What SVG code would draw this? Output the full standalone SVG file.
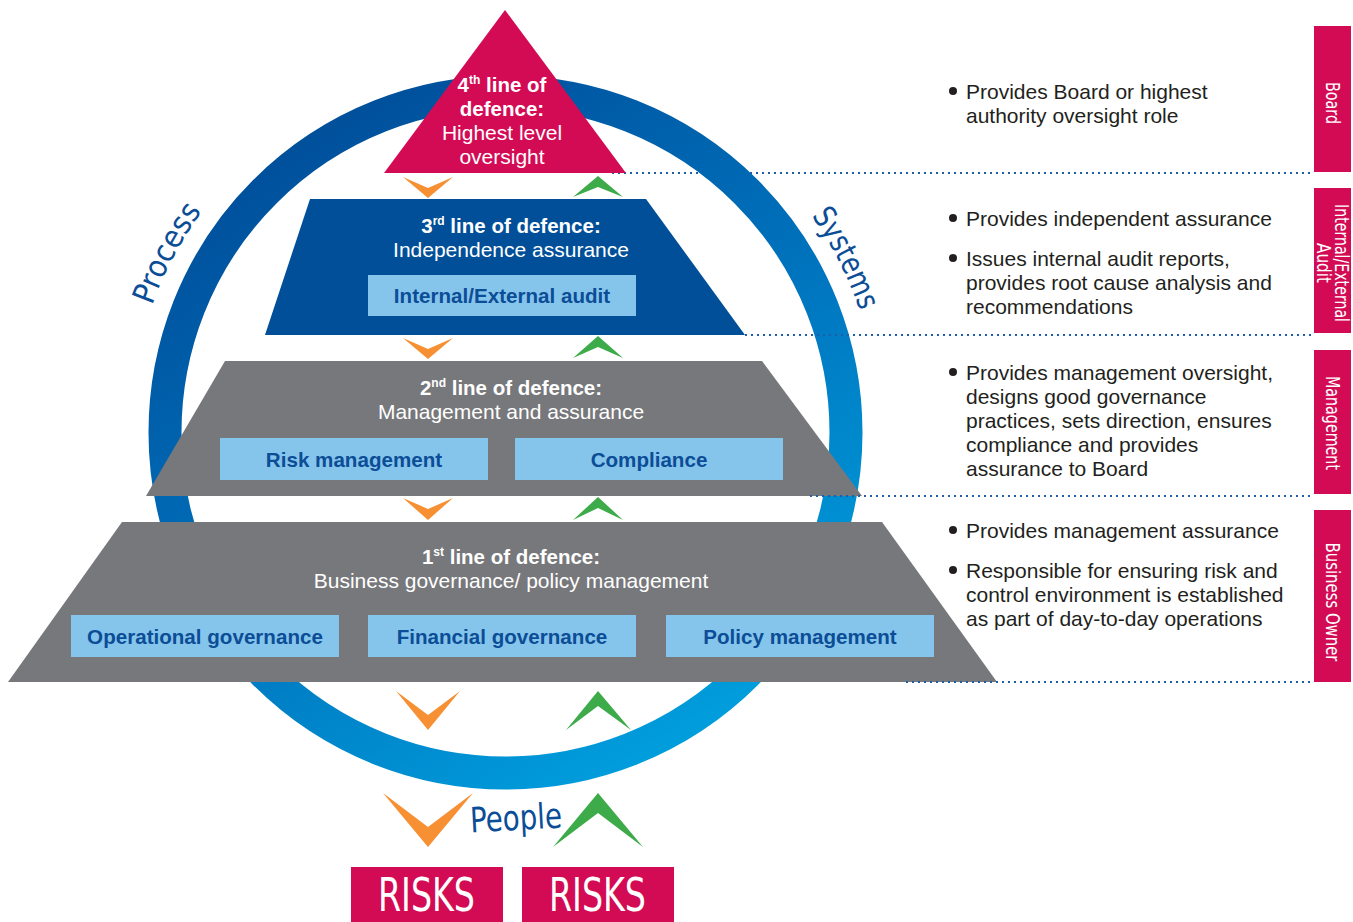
<svg xmlns="http://www.w3.org/2000/svg" xmlns:xlink="http://www.w3.org/1999/xlink" width="1353" height="922" viewBox="0 0 1353 922">
<defs>
<linearGradient id="ringGrad" x1="0.15" y1="0" x2="0.75" y2="1">
<stop offset="0" stop-color="#004a96"/>
<stop offset="0.5" stop-color="#0070bb"/>
<stop offset="1" stop-color="#00a0de"/>
</linearGradient>
<path id="arcPath" d="M 130,432 A 375 375 0 0 1 880,432"/>
</defs>
<style>
.pink{fill:#d30b55}
.blue3{fill:#004f98}
.gray{fill:#77787b}
.box{fill:#86c5eb}
.boxt{font-family:"Liberation Sans",Arial,sans-serif;font-weight:bold;font-size:20.6px;fill:#0b4d96;text-anchor:middle}
.title{font-family:"Liberation Sans",Arial,sans-serif;font-weight:bold;font-size:20.5px;fill:#fff;text-anchor:middle}
.sub{font-family:"Liberation Sans",Arial,sans-serif;font-size:21px;fill:#fff;text-anchor:middle}
.body{font-family:"Liberation Sans",Arial,sans-serif;font-size:21px;fill:#231f20}
.cond{font-family:"Liberation Sans Narrow","DejaVu Sans Condensed","Liberation Sans",sans-serif}
.tab{font-size:19px;fill:#fff;text-anchor:middle}
.orange{fill:#f78f33}
.green{fill:#3eab4a}
.dot{stroke:#1d5ea8;stroke-width:2.2;stroke-dasharray:2 4;fill:none}
.ringlbl{font-size:31px;fill:#0b4d96}
</style>

<g id="guide-under">
<line class="dot" x1="612" y1="173" x2="1312" y2="173"/>
</g>

<g id="ring">
<circle cx="505.5" cy="432.5" r="340.5" fill="none" stroke="url(#ringGrad)" stroke-width="33"/>
</g>

<g id="ring-labels">
<text class="cond ringlbl"><textPath xlink:href="#arcPath" href="#arcPath" startOffset="129" textLength="107" lengthAdjust="spacingAndGlyphs">Process</textPath></text>
<text class="cond ringlbl"><textPath xlink:href="#arcPath" href="#arcPath" startOffset="947" textLength="107" lengthAdjust="spacingAndGlyphs">Systems</textPath></text>
</g>

<g id="line4">
<polygon class="pink" points="505,10 626,173 384,173"/>
<text class="title" x="502" y="92">4<tspan font-size="12" dy="-8">th</tspan><tspan dy="8"> line of</tspan></text>
<text class="title" x="502" y="116">defence:</text>
<text class="sub" x="502" y="140">Highest level</text>
<text class="sub" x="502" y="164">oversight</text>
</g>

<g id="line3">
<polygon class="blue3" points="310,199 646,199 745,335 265,335"/>
<text class="title" x="511" y="233">3<tspan font-size="12" dy="-8">rd</tspan><tspan dy="8"> line of defence:</tspan></text>
<text class="sub" x="511" y="257">Independence assurance</text>
<rect class="box" x="368" y="275" width="268" height="41"/>
<text class="boxt" x="502" y="303">Internal/External audit</text>
</g>

<g id="line2">
<polygon class="gray" points="225,361 762,361 862,496 146,496"/>
<text class="title" x="511" y="395">2<tspan font-size="12" dy="-8">nd</tspan><tspan dy="8"> line of defence:</tspan></text>
<text class="sub" x="511" y="419">Management and assurance</text>
<rect class="box" x="220" y="438" width="268" height="42"/>
<text class="boxt" x="354" y="467">Risk management</text>
<rect class="box" x="515" y="438" width="268" height="42"/>
<text class="boxt" x="649" y="467">Compliance</text>
</g>

<g id="line1">
<polygon class="gray" points="122,522 882,522 997,682 8,682"/>
<text class="title" x="511" y="564">1<tspan font-size="12" dy="-8">st</tspan><tspan dy="8"> line of defence:</tspan></text>
<text class="sub" x="511" y="588">Business governance/ policy management</text>
<rect class="box" x="71" y="615" width="268" height="42"/>
<text class="boxt" x="205" y="644">Operational governance</text>
<rect class="box" x="368" y="615" width="268" height="42"/>
<text class="boxt" x="502" y="644">Financial governance</text>
<rect class="box" x="666" y="615" width="268" height="42"/>
<text class="boxt" x="800" y="644">Policy management</text>
</g>

<g id="connectors">
<polygon class="orange" points="403,177 428,198 453,177 428,188"/>
<polygon class="orange" points="403,338 428,359 453,338 428,349"/>
<polygon class="orange" points="403,498 428,520 453,498 428,509"/>
<polygon class="orange" points="396,691 428,730 460,691 428,715"/>
<polygon class="orange" points="383,793 428,847 473,793 428,827"/>
<polygon class="green" points="573,197 598,176 623,197 598,187"/>
<polygon class="green" points="573,358 598,336 623,358 598,347"/>
<polygon class="green" points="573,520 598,497 623,520 598,508"/>
<polygon class="green" points="566,730 598,691 631,730 598,706"/>
<polygon class="green" points="553,847 598,793 643,847 598,813"/>
<line class="dot" x1="745" y1="335" x2="1312" y2="335"/>
<line class="dot" x1="810" y1="496" x2="1312" y2="496"/>
<line class="dot" x1="906" y1="682" x2="1312" y2="682"/>
</g>

<g id="people">
<text class="cond" x="470" y="830" font-size="35" fill="#0b4d96" textLength="92" lengthAdjust="spacingAndGlyphs" transform="rotate(-3 516 818)">People</text>
</g>

<g id="risks-left">
<rect class="pink" x="351" y="867" width="152" height="55"/>
<text class="cond" x="378" y="911" font-size="47" fill="#fff" textLength="97" lengthAdjust="spacingAndGlyphs">RISKS</text>
</g>
<g id="risks-right">
<rect class="pink" x="522" y="867" width="152" height="55"/>
<text class="cond" x="549" y="911" font-size="47" fill="#fff" textLength="97" lengthAdjust="spacingAndGlyphs">RISKS</text>
</g>

<g id="desc-board">
<circle cx="953" cy="91" r="4" fill="#231f20"/>
<text class="body" x="966" y="99">Provides Board or highest</text>
<text class="body" x="966" y="123">authority oversight role</text>
</g>
<g id="desc-audit">
<circle cx="953" cy="218" r="4" fill="#231f20"/>
<text class="body" x="966" y="226">Provides independent assurance</text>
<circle cx="953" cy="258" r="4" fill="#231f20"/>
<text class="body" x="966" y="266">Issues internal audit reports,</text>
<text class="body" x="966" y="290">provides root cause analysis and</text>
<text class="body" x="966" y="314">recommendations</text>
</g>
<g id="desc-management">
<circle cx="953" cy="372" r="4" fill="#231f20"/>
<text class="body" x="966" y="380">Provides management oversight,</text>
<text class="body" x="966" y="404">designs good governance</text>
<text class="body" x="966" y="428">practices, sets direction, ensures</text>
<text class="body" x="966" y="452">compliance and provides</text>
<text class="body" x="966" y="476">assurance to Board</text>
</g>
<g id="desc-business">
<circle cx="953" cy="530" r="4" fill="#231f20"/>
<text class="body" x="966" y="538">Provides management assurance</text>
<circle cx="953" cy="570" r="4" fill="#231f20"/>
<text class="body" x="966" y="578">Responsible for ensuring risk and</text>
<text class="body" x="966" y="602">control environment is established</text>
<text class="body" x="966" y="626">as part of day-to-day operations</text>
</g>

<g id="tab-board">
<rect class="pink" x="1314" y="26" width="37" height="146"/>
<text class="cond tab" transform="translate(1326 103) rotate(90)" textLength="42" lengthAdjust="spacingAndGlyphs">Board</text>
</g>
<g id="tab-audit">
<rect class="pink" x="1314" y="188" width="37" height="145"/>
<text class="cond tab" transform="translate(1335 263) rotate(90)" textLength="118" lengthAdjust="spacingAndGlyphs">Internal/External</text>
<text class="cond tab" transform="translate(1317 263) rotate(90)" textLength="40" lengthAdjust="spacingAndGlyphs">Audit</text>
</g>
<g id="tab-management">
<rect class="pink" x="1314" y="350" width="37" height="144"/>
<text class="cond tab" transform="translate(1326 423) rotate(90)" textLength="94" lengthAdjust="spacingAndGlyphs">Management</text>
</g>
<g id="tab-business">
<rect class="pink" x="1314" y="510" width="37" height="172"/>
<text class="cond tab" transform="translate(1326 602) rotate(90)" textLength="119" lengthAdjust="spacingAndGlyphs">Business Owner</text>
</g>
</svg>
